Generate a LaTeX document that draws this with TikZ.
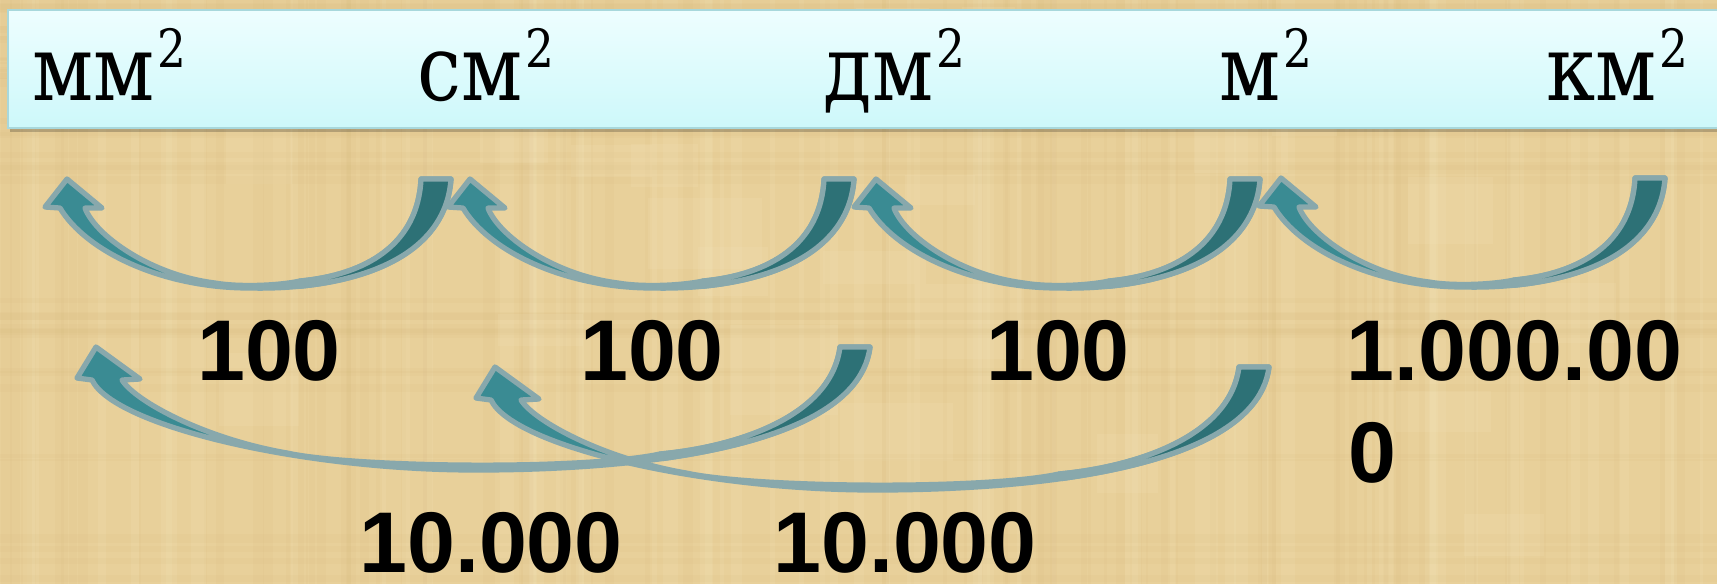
\documentclass[tikz,border=0pt]{standalone}
\usepackage{fontspec}
\setmainfont{DejaVu Serif}
\newfontfamily\unitfont[FakeStretch=0.86]{DejaVu Serif}
\newfontfamily\numfont{Liberation Sans}
\definecolor{bgbase}{HTML}{E8D09A}
\definecolor{bgdark}{HTML}{CDAE6E}
\definecolor{bglight}{HTML}{F6E6BE}
\definecolor{bantop}{HTML}{EEFEFF}
\definecolor{banbot}{HTML}{CDF8FA}
\definecolor{banedge}{HTML}{A8D8DC}
\definecolor{arrowedge}{HTML}{88A8AC}
\definecolor{arrowlight}{HTML}{3A8B93}
\definecolor{arrowdark}{HTML}{2D7176}
\newcommand\suptwo{\kern0.8pt\raisebox{0.32cm}{\fontsize{15}{16}\selectfont 2}}
\begin{document}
\begin{tikzpicture}[x=0.01cm,y=-0.01cm,
  arrowline/.style={draw=arrowedge, line width=1.5pt, line join=round},
  unit/.style={anchor=base west, inner sep=0pt, font=\unitfont\fontsize{26}{30}\selectfont},
  num/.style={anchor=base, inner sep=0pt, font=\numfont\bfseries\fontsize{24.5}{29}\selectfont},
  numl/.style={anchor=base west, inner sep=0pt, font=\numfont\bfseries\fontsize{24.5}{29}\selectfont},
  toparrow/.pic={
    \draw[arrowline, fill=arrowlight] (384,0) .. controls (378,86) and (273,111) .. (183,109)
      .. controls (93,109) and (18,71) .. (-7,29)
      -- (-22,28) -- (0,0) -- (35,29) -- (18,29)
      .. controls (28,56) and (83,96) .. (148,104)
      .. controls (170,108) and (210,107) .. (233,102)
      .. controls (298,96) and (351,66) .. (354,0) -- cycle;
    \draw[arrowline, fill=arrowdark] (384,0) .. controls (379.1,70.5) and (307.6,100) .. (232.4,107.3)
      -- (233,102) .. controls (298,96) and (351,66) .. (354,0) -- cycle;
  },
  botarrow/.pic={
    \draw[arrowline, fill=arrowlight] (774,0) .. controls (762,97) and (557,123) .. (380,123)
      .. controls (206,123) and (18,79) .. (-4,33)
      -- (-19,31) -- (0,0) -- (44,32) -- (26,33)
      .. controls (40,55) and (110,92) .. (191,106)
      .. controls (260,121) and (490,123) .. (564,107)
      .. controls (640,100) and (735,70) .. (744,0) -- cycle;
    \draw[arrowline, fill=arrowdark] (774,0) .. controls (766.2,63.05) and (676.9,96.1) .. (566.7,111.5)
      -- (564,107) .. controls (640,100) and (735,70) .. (744,0) -- cycle;
  }]
\useasboundingbox (0,0) rectangle (1717,584);
% background
\begin{scope}
\clip (0,0) rectangle (1717,584);
\fill[bgbase] (0,0) rectangle (1717,584);
\pgfmathsetseed{11}
\foreach \i in {1,...,90}{
  \pgfmathsetmacro\xx{rnd*1717}
  \pgfmathsetmacro\ww{2+rnd*10}
  \fill[bgdark, opacity=0.07] (\xx,0) rectangle (\xx+\ww,584);
}
\foreach \i in {1,...,60}{
  \pgfmathsetmacro\xx{rnd*1717}
  \pgfmathsetmacro\ww{3+rnd*14}
  \fill[bglight, opacity=0.16] (\xx,0) rectangle (\xx+\ww,584);
}
\foreach \i in {1,...,40}{
  \pgfmathsetmacro\yy{rnd*584}
  \pgfmathsetmacro\hh{2+rnd*8}
  \fill[bgdark, opacity=0.07] (0,\yy) rectangle (1717,\yy+\hh);
}
\foreach \i in {1,...,25}{
  \pgfmathsetmacro\xx{rnd*1600}
  \pgfmathsetmacro\yy{rnd*520}
  \fill[bglight, opacity=0.15] (\xx,\yy) rectangle (\xx+40+rnd*80,\yy+30+rnd*60);
}
% banner
\fill[black, opacity=0.22] (10,14) rectangle (1730,132);
\shade[top color=bantop, bottom color=banbot, draw=banedge, line width=0.6pt] (8,10) rectangle (1730,128);
\end{scope}
% units
\node[unit] (mm) at (32,100) {мм\suptwo};
\node[unit] (cm) at (417,100) {см\suptwo};
\node[unit] (dm) at (823,100) {дм\suptwo};
\node[unit] (m)  at (1219,100) {м\suptwo};
\node[unit] (km) at (1546,100) {км\suptwo};
% arrows
\pic at (67,179) {toparrow};
\pic at (470,179) {toparrow};
\pic at (876,179) {toparrow};
\pic at (1281,178) {toparrow};
\pic at (96,347) {botarrow};
\pic at (495,367) {botarrow};
% numbers
\node[num] (n1) at (269,380) {100};
\node[num] (n2) at (652,380) {100};
\node[num] (n3) at (1058,380) {100};
\node[numl] (n4) at (1346,380) {1.000.00};
\node[numl] (n4b) at (1348,482) {0};
\node[num] (n5) at (491,572) {10.000};
\node[num] (n6) at (905,572) {10.000};
\end{tikzpicture}
\end{document}
